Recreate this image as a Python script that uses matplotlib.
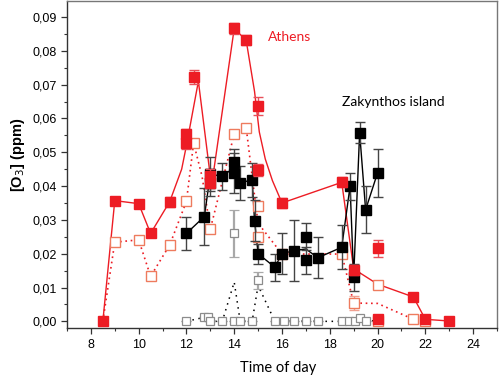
import matplotlib
matplotlib.use("Agg")
import matplotlib.pyplot as plt
from matplotlib.ticker import MultipleLocator, FuncFormatter

# ---------------- data ----------------
# Athens, filled squares
athens_t = [8.5, 9.0, 10.0, 10.5, 11.3, 12.0, 12.0, 12.3, 13.0, 13.0, 14.0, 14.5, 15.0, 15.0,
            16.0, 18.5, 19.0, 20.0, 20.0, 21.5, 22.0, 23.0]
athens_v = [0.0000, 0.0357, 0.0348, 0.0260, 0.0354, 0.0554, 0.0526, 0.0723, 0.0430, 0.0410,
            0.0866, 0.0831, 0.0637, 0.0448, 0.0350, 0.0411, 0.0152, 0.0216, 0.0006, 0.0072,
            0.0006, 0.0001]
athens_err = [0.0, 0.0012, 0.0012, 0.0012, 0.0015, 0.0015, 0.0015, 0.0020, 0.0020, 0.0015,
              0.0015, 0.0015, 0.0026, 0.0018, 0.0015, 0.0015, 0.0015, 0.0025, 0.0008, 0.0008,
              0.0005, 0.0005]
# Athens smoothed solid curve
athens_line_t = [8.5, 9.0, 10.0, 10.5, 11.3, 11.8, 12.0, 12.5, 13.05, 14.0, 14.5, 14.85, 15.05,
                 15.3, 15.6, 16.0, 18.5, 19.0, 20.0, 21.5, 22.0, 23.0]
athens_line_v = [0.0, 0.0357, 0.0348, 0.0260, 0.0354, 0.0450, 0.0520, 0.0710, 0.0400, 0.0866,
                 0.0831, 0.0680, 0.0560, 0.0480, 0.0416, 0.0350, 0.0411, 0.0155, 0.0110,
                 0.0072, 0.0006, 0.0001]

# Athens, open squares
athens_open_t = [9.0, 10.0, 10.5, 11.3, 12.0, 12.3, 13.0, 14.0, 14.5, 15.0, 15.0, 16.0, 18.5,
                 19.0, 20.0, 20.0, 21.5, 22.0]
athens_open_v = [0.0234, 0.0241, 0.0133, 0.0226, 0.0355, 0.0527, 0.0273, 0.0554, 0.0573,
                 0.0340, 0.0249, 0.0199, 0.0199, 0.0054, 0.0106, 0.0002, 0.0006, 0.0001]
athens_open_err = [0.0012, 0.0012, 0.0010, 0.0012, 0.0012, 0.0012, 0.0012, 0.0012, 0.0010,
                   0.0012, 0.0012, 0.0012, 0.0012, 0.0020, 0.0010, 0.0008, 0.0006, 0.0004]
# Athens dotted curve
athens_dot_t = [8.5, 9.0, 10.0, 10.5, 11.3, 12.0, 12.3, 12.65, 13.0, 14.0, 14.5, 14.8, 15.0,
                16.0, 18.5, 19.0, 20.0, 21.5, 22.0]
athens_dot_v = [0.0, 0.0234, 0.0241, 0.0133, 0.0226, 0.0355, 0.0527, 0.0430, 0.0273, 0.0554,
                0.0573, 0.0400, 0.0290, 0.0199, 0.0199, 0.0054, 0.0053, 0.0006, 0.0001]

# Zakynthos island, filled squares
zak_t = [12.0, 12.75, 13.0, 13.0, 13.5, 14.0, 14.0, 14.25, 14.75, 14.85, 15.0, 15.7, 16.0,
         16.5, 17.0, 17.0, 17.5, 18.5, 18.85, 19.0, 19.25, 19.5, 20.0]
zak_v = [0.0260, 0.0310, 0.0435, 0.0410, 0.0429, 0.0470, 0.0439, 0.0409, 0.0419, 0.0298,
         0.0200, 0.0160, 0.0200, 0.0209, 0.0250, 0.0180, 0.0188, 0.0219, 0.0400, 0.0130,
         0.0558, 0.0330, 0.0439]
zak_err = [0.0050, 0.0085, 0.0050, 0.0040, 0.0040, 0.0040, 0.0060, 0.0050, 0.0050, 0.0060,
           0.0030, 0.0040, 0.0060, 0.0090, 0.0040, 0.0040, 0.0060, 0.0065, 0.0040, 0.0040,
           0.0030, 0.0070, 0.0070]
zak_line_t = [12.0, 12.75, 13.0, 13.5, 14.0, 14.25, 14.75, 14.85, 15.0, 15.7, 16.0, 16.5,
              17.0, 17.5, 18.5, 18.85, 19.0, 19.25, 19.5, 20.0]
zak_line_v = [0.0260, 0.0310, 0.0435, 0.0429, 0.0455, 0.0409, 0.0419, 0.0298, 0.0200, 0.0160,
              0.0200, 0.0209, 0.0214, 0.0188, 0.0219, 0.0400, 0.0130, 0.0558, 0.0330, 0.0439]

# Zakynthos island, open squares
zak_open_t = [12.0, 12.75, 12.9, 13.0, 13.5, 14.0, 14.0, 14.25, 14.75, 15.0, 15.7, 16.1, 16.5,
              17.0, 17.5, 18.5, 18.8, 19.05, 19.25, 19.5, 20.0]
zak_open_v = [0.0, 0.0013, 0.0012, 0.0, 0.0, 0.0260, 0.0, 0.0, 0.0, 0.0121, 0.0, 0.0, 0.0,
              0.0, 0.0, 0.0, 0.0, 0.0, 0.0011, 0.0, 0.0003]
zak_open_err = [0, 0, 0, 0, 0, 0.0070, 0, 0, 0, 0.0025, 0, 0, 0, 0, 0, 0, 0, 0, 0, 0, 0]
zak_dot_t = [12.0, 12.75, 13.0, 13.5, 14.0, 14.25, 14.75, 15.0, 15.7, 16.1, 16.5, 17.0, 17.5,
             18.5, 18.8, 19.05, 19.25, 19.5, 20.0]
zak_dot_v = [0.0, 0.0012, 0.0, 0.0, 0.0116, 0.0, 0.0, 0.0106, 0.0, 0.0, 0.0, 0.0, 0.0, 0.0,
             0.0, 0.0, 0.0011, 0.0, 0.0003]

x_ticks = [8, 10, 12, 14, 16, 18, 20, 22, 24]
y_ticks = [0.00, 0.01, 0.02, 0.03, 0.04, 0.05, 0.06, 0.07, 0.08, 0.09]

# ---------------- style ----------------
RED = "#ED1C24"
RED_ERR = "#E8505A"
SALMON = "#EE7B5E"
GREY = "#8C8C8C"

fig = plt.figure(figsize=(5.0, 3.78), dpi=100)
ax = fig.add_axes([0.134, 0.132, 0.860, 0.866])

# lines
ax.plot(athens_line_t, athens_line_v, color=RED, lw=1.0, zorder=2)
ax.plot(athens_dot_t, athens_dot_v, color=RED, lw=1.2, ls=(0, (1, 2.2)), zorder=2)
ax.plot(zak_line_t, zak_line_v, color="black", lw=1.0, zorder=3)
ax.plot(zak_dot_t, zak_dot_v, color="black", lw=1.1, ls=(0, (1, 3)), zorder=3)

# markers with error bars
ax.errorbar(zak_open_t, zak_open_v, yerr=zak_open_err, fmt="s", ms=6, mfc="white",
            mec=GREY, mew=0.9, ecolor="#A8A8A8", elinewidth=1.6, capsize=3.5, capthick=1.0,
            zorder=4)
ax.errorbar(athens_open_t, athens_open_v, yerr=athens_open_err, fmt="s", ms=7, mfc="white",
            mec=SALMON, mew=1.0, ecolor="#F0A090", elinewidth=1.0, capsize=3.5, capthick=1.0,
            zorder=5)
ax.errorbar(zak_t, zak_v, yerr=zak_err, fmt="s", ms=7, mfc="black", mec="black",
            ecolor="#444444", elinewidth=1.0, capsize=3.5, capthick=1.0, zorder=6)
ax.errorbar(athens_t, athens_v, yerr=athens_err, fmt="s", ms=7, mfc=RED, mec=RED,
            ecolor=RED_ERR, elinewidth=1.0, capsize=3.5, capthick=1.0, zorder=7)

# annotations
ax.text(15.4, 0.0841, "Athens", color=RED, fontsize=10, family="Lato",
        va="center", ha="left")
ax.text(18.5, 0.0649, "Zakynthos island", color="black", fontsize=10, family="Lato",
        va="center", ha="left")

# axes
ax.set_xlim(7, 25)
ax.set_ylim(-0.002, 0.0948)
ax.set_xticks(x_ticks)
ax.set_yticks(y_ticks)
ax.xaxis.set_minor_locator(MultipleLocator(1))
ax.yaxis.set_minor_locator(MultipleLocator(0.005))
ax.yaxis.set_major_formatter(FuncFormatter(lambda v, p: f"{v:.2f}".replace(".", ",")))
ax.tick_params(which="major", direction="out", length=4, width=0.9, color="#333333",
               labelsize=9, top=False, right=False)
ax.tick_params(which="minor", direction="out", length=2.5, width=0.8, color="#333333",
               top=False, right=False)
for lab in ax.get_xticklabels() + ax.get_yticklabels():
    lab.set_family("Liberation Sans")

for s in ["left", "bottom"]:
    ax.spines[s].set_color("#333333")
    ax.spines[s].set_linewidth(1.0)
for s in ["top", "right"]:
    ax.spines[s].set_color("#777777")
    ax.spines[s].set_linewidth(1.0)

ax.set_xlabel("Time of day", fontsize=10.5, family="Lato")
ax.xaxis.set_label_coords(0.49, -0.1)
ax.set_ylabel(r"[O$_3$] (ppm)", fontsize=10.5, family="Liberation Sans", fontweight="bold")
ax.yaxis.set_label_coords(-0.092, 0.53)

fig.savefig("out.png", dpi=100)
